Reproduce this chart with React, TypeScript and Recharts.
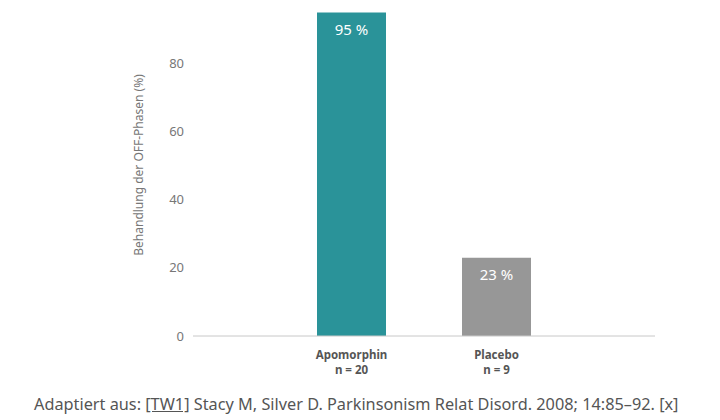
import { BarChart, Bar, XAxis, YAxis, Cell, LabelList } from 'recharts'

const gruppen = ['Apomorphin', 'Placebo']
const fallzahlen = ['n = 20', 'n = 9']
const anteile = [95, 23]
const yTicks = [0, 20, 40, 60, 80]
const farben = ['#2a9399', '#979797']

const daten = gruppen.map((g, i) => ({ gruppe: g, n: fallzahlen[i], wert: anteile[i] }))

const font = '"Noto Sans", "Open Sans", sans-serif'

function GruppenTick(props: any) {
	const { x, y, payload, index } = props
	return (
		<g fill="#555" fontFamily={font} fontSize={11.5} fontWeight={700}>
			<text x={x} y={y + 15} textAnchor="middle">{payload.value}</text>
			<text x={x} y={y + 30} textAnchor="middle">{fallzahlen[index]}</text>
		</g>
	)
}

export default function App() {
	return (
		<div style={{ position: 'fixed', left: 0, top: 0, width: 720, height: 420, background: '#fff' }}>
			<BarChart width={720} height={382} data={daten} margin={{ top: 9, right: 65, bottom: 0, left: 0 }}>
				<XAxis
					dataKey="gruppe"
					tick={<GruppenTick />}
					tickLine={false}
					axisLine={{ stroke: '#c8c8c8' }}
					padding={{ left: 86, right: 86 }}
					height={46}
					interval={0}
				/>
				<YAxis
					width={193}
					domain={[0, 96]}
					ticks={yTicks}
					allowDataOverflow
					axisLine={false}
					tickLine={false}
					tickSize={0}
					tickMargin={9}
					tick={{ fill: '#777', fontSize: 13, fontFamily: font }}
					label={{
						content: () => (
							<text x={143} y={165} transform="rotate(-90 143 165)" textAnchor="middle" fill="#777" fontSize={12} fontFamily={font}>
								Behandlung der OFF-Phasen (%)
							</text>
						),
					}}
				/>
				<Bar dataKey="wert" barSize={69} isAnimationActive={false}>
					{daten.map((d, i) => (
						<Cell key={d.gruppe} fill={farben[i]} />
					))}
					<LabelList
						dataKey="wert"
						position="insideTop"
						offset={12}
						formatter={(v: any) => `${v} %`}
						fill="#fff"
						fontSize={15}
						fontFamily={font}
					/>
				</Bar>
			</BarChart>
			<div style={{ position: 'absolute', left: 34, top: 393, fontFamily: font, fontSize: 16.3, color: '#555', whiteSpace: 'nowrap' }}>
				Adaptiert aus: <span style={{ textDecoration: 'underline' }}>[TW1]</span> Stacy M, Silver D. Parkinsonism Relat Disord. 2008; 14:85–92. [x]
			</div>
		</div>
	)
}
